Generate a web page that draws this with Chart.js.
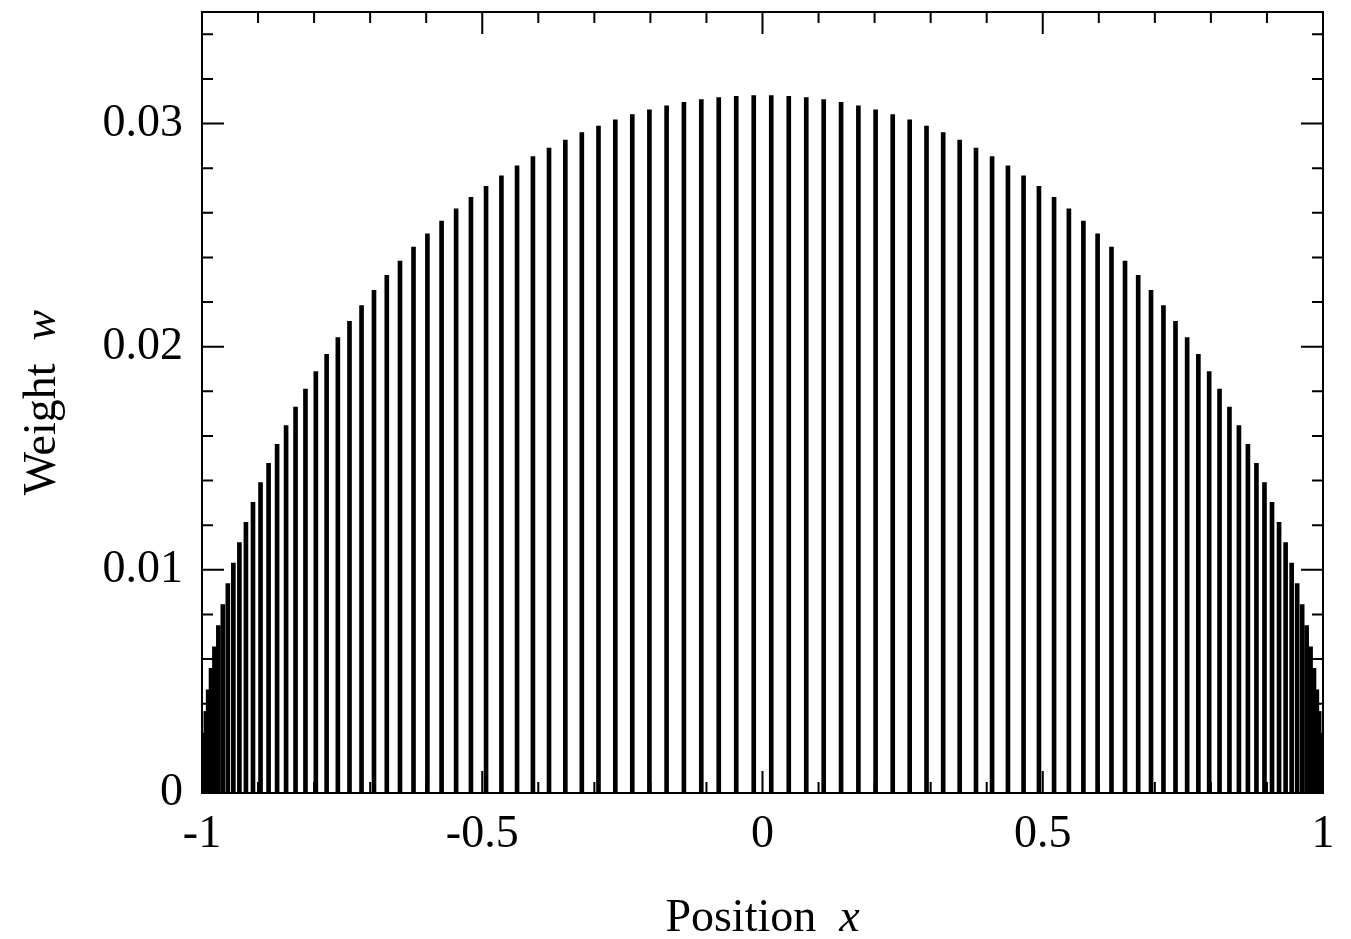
<!DOCTYPE html>
<html>
<head>
<meta charset="utf-8">
<title>Weights</title>
<script src="https://cdn.jsdelivr.net/npm/chart.js@4/dist/chart.umd.min.js"></script>
<style>
  html, body { margin:0; padding:0; background:#fff; }
  canvas { display:block; }
</style>
</head>
<body>
<canvas id="c" width="1351" height="939"></canvas>
<script>
/* node positions x and weights w (left to right) */
const positions = [
  -0.99973, -0.99851, -0.99632, -0.99315, -0.98900, -0.98389, -0.97782, -0.97080, -0.96283, -0.95391,
  -0.94407, -0.93330, -0.92162, -0.90904, -0.89557, -0.88123, -0.86603, -0.84998, -0.83309, -0.81540,
  -0.79691, -0.77764, -0.75761, -0.73684, -0.71535, -0.69316, -0.67029, -0.64677, -0.62262, -0.59786,
  -0.57252, -0.54662, -0.52018, -0.49322, -0.46579, -0.43791, -0.40960, -0.38088, -0.35180, -0.32237,
  -0.29262, -0.26259, -0.23231, -0.20179, -0.17108, -0.14021, -0.10919, -0.07807, -0.04687, -0.01563,
   0.01563,  0.04687,  0.07807,  0.10919,  0.14021,  0.17108,  0.20179,  0.23231,  0.26259,  0.29262,
   0.32237,  0.35180,  0.38088,  0.40960,  0.43791,  0.46579,  0.49322,  0.52018,  0.54662,  0.57252,
   0.59786,  0.62262,  0.64677,  0.67029,  0.69316,  0.71535,  0.73684,  0.75761,  0.77764,  0.79691,
   0.81540,  0.83309,  0.84998,  0.86603,  0.88123,  0.89557,  0.90904,  0.92162,  0.93330,  0.94407,
   0.95391,  0.96283,  0.97080,  0.97782,  0.98389,  0.98900,  0.99315,  0.99632,  0.99851,  0.99973
];
const weights = [
  0.000733, 0.001708, 0.002684, 0.003656, 0.004625, 0.005589, 0.006547, 0.007499, 0.008444, 0.009381,
  0.010308, 0.011225, 0.012132, 0.013026, 0.013908, 0.014776, 0.015630, 0.016468, 0.017291, 0.018096,
  0.018884, 0.019654, 0.020404, 0.021134, 0.021844, 0.022532, 0.023198, 0.023841, 0.024462, 0.025058,
  0.025630, 0.026177, 0.026698, 0.027193, 0.027662, 0.028103, 0.028517, 0.028903, 0.029261, 0.029591,
  0.029891, 0.030163, 0.030405, 0.030617, 0.030799, 0.030951, 0.031073, 0.031164, 0.031225, 0.031256,
  0.031256, 0.031225, 0.031164, 0.031073, 0.030951, 0.030799, 0.030617, 0.030405, 0.030163, 0.029891,
  0.029591, 0.029261, 0.028903, 0.028517, 0.028103, 0.027662, 0.027193, 0.026698, 0.026177, 0.025630,
  0.025058, 0.024462, 0.023841, 0.023198, 0.022532, 0.021844, 0.021134, 0.020404, 0.019654, 0.018884,
  0.018096, 0.017291, 0.016468, 0.015630, 0.014776, 0.013908, 0.013026, 0.012132, 0.011225, 0.010308,
  0.009381, 0.008444, 0.007499, 0.006547, 0.005589, 0.004625, 0.003656, 0.002684, 0.001708, 0.000733
];

// tick values and labels
const xMajor = [-1, -0.5, 0, 0.5, 1];
const xLabels = ['-1', '-0.5', '0', '0.5', '1'];
const xMinor = [-0.9, -0.8, -0.7, -0.6, -0.4, -0.3, -0.2, -0.1, 0.1, 0.2, 0.3, 0.4, 0.6, 0.7, 0.8, 0.9];
const yMajor = [0, 0.01, 0.02, 0.03];
const yLabels = ['0', '0.01', '0.02', '0.03'];
const yMinor = [0.002, 0.004, 0.006, 0.008, 0.012, 0.014, 0.016, 0.018,
                0.022, 0.024, 0.026, 0.028, 0.032, 0.034];

const FONT = '"Liberation Serif", "Times New Roman", serif';
const FS = 46;

// frame + inward ticks on all four sides
const frameTicks = {
  id: 'frameTicks',
  beforeDatasetsDraw(chart){
    const { ctx, chartArea: a, scales: { x, y } } = chart;
    ctx.save();
    ctx.strokeStyle = '#000';
    ctx.lineWidth = 2;
    ctx.beginPath();
    const xt = (v, len) => {
      const p = x.getPixelForValue(v);
      ctx.moveTo(p, a.bottom); ctx.lineTo(p, a.bottom - len);
      ctx.moveTo(p, a.top);    ctx.lineTo(p, a.top + len);
    };
    const yt = (v, len) => {
      const p = y.getPixelForValue(v);
      ctx.moveTo(a.left, p);  ctx.lineTo(a.left + len, p);
      ctx.moveTo(a.right, p); ctx.lineTo(a.right - len, p);
    };
    xMajor.forEach(v => xt(v, 22));
    xMinor.forEach(v => xt(v, 11));
    yMajor.forEach(v => yt(v, 22));
    yMinor.forEach(v => yt(v, 11));
    ctx.stroke();
    ctx.restore();
  },
  afterDatasetsDraw(chart){
    const { ctx, chartArea: a } = chart;
    ctx.save();
    ctx.strokeStyle = '#000';
    ctx.lineWidth = 2;
    ctx.strokeRect(a.left, a.top, a.right - a.left, a.bottom - a.top);
    ctx.restore();
  }
};

// axis titles with italic symbol
const axisTitles = {
  id: 'axisTitles',
  afterDraw(chart){
    const { ctx, chartArea: a } = chart;
    const roman = `${FS}px ${FONT}`;
    const ital  = `italic ${FS}px ${FONT}`;
    const piece = (t1, t2, cx, cy, rot) => {
      ctx.save();
      ctx.translate(cx, cy);
      if (rot) ctx.rotate(-Math.PI/2);
      ctx.fillStyle = '#000';
      ctx.textBaseline = 'alphabetic';
      ctx.textAlign = 'left';
      ctx.font = roman; const w1 = ctx.measureText(t1).width;
      ctx.font = ital;  const w2 = ctx.measureText(t2).width;
      const x0 = -(w1 + w2) / 2;
      ctx.font = roman; ctx.fillText(t1, x0, 0);
      ctx.font = ital;  ctx.fillText(t2, x0 + w1, 0);
      ctx.restore();
    };
    piece('Position  ', 'x', (a.left + a.right) / 2, 931, false);
    piece('Weight  ', 'w', 55, (a.top + a.bottom) / 2, true);
  }
};

Chart.defaults.font.family = FONT;
Chart.defaults.color = '#000';

new Chart(document.getElementById('c'), {
  type: 'bar',
  data: {
    datasets: [{
      data: positions.map((p, i) => ({ x: p, y: weights[i] })),
      backgroundColor: '#000',
      borderWidth: 0,
      barThickness: 4
    }]
  },
  options: {
    responsive: false,
    animation: false,
    devicePixelRatio: 1,
    layout: { padding: { top: 12, right: 28, left: 0, bottom: 0 } },
    plugins: { legend: { display: false }, tooltip: { enabled: false } },
    scales: {
      x: {
        type: 'linear',
        min: -1, max: 1,
        offset: false,
        grid: { display: false, drawTicks: false, offset: false },
        border: { display: false },
        afterBuildTicks: s => { s.ticks = xMajor.map(v => ({ value: v })); },
        afterFit: s => { s.height = 146; s.paddingLeft = 0; s.paddingRight = 0; },
        ticks: {
          autoSkip: false, maxRotation: 0,
          padding: 14,
          font: { size: FS, family: FONT },
          color: '#000',
          callback: (v, i) => xLabels[i]
        }
      },
      y: {
        min: 0, max: 0.035,
        grid: { display: false, drawTicks: false },
        border: { display: false },
        afterBuildTicks: s => { s.ticks = yMajor.map(v => ({ value: v })); },
        afterFit: s => { s.width = 202; s.paddingTop = 0; s.paddingBottom = 0; },
        ticks: {
          autoSkip: false,
          padding: 19,
          font: { size: FS, family: FONT },
          color: '#000',
          callback: (v, i) => yLabels[i]
        }
      }
    }
  },
  plugins: [frameTicks, axisTitles]
});
</script>
</body>
</html>
